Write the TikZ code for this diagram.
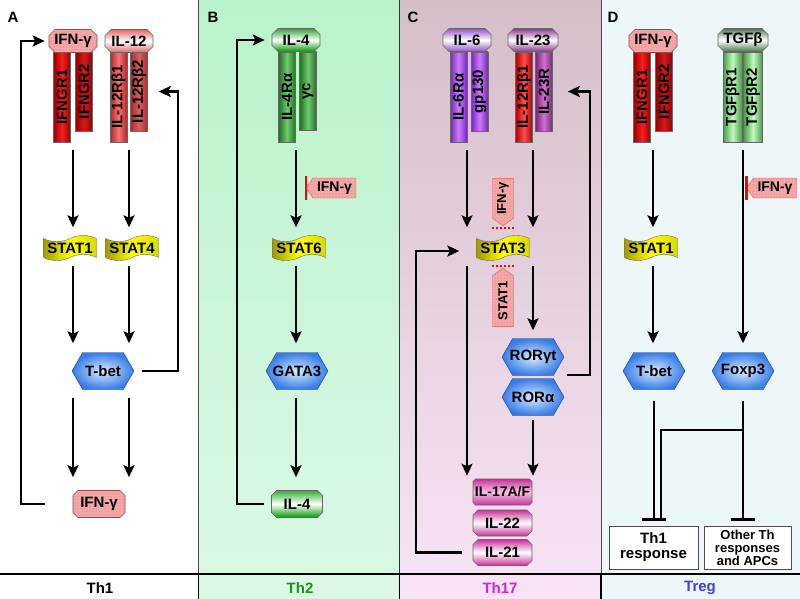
\documentclass[tikz,border=0pt]{standalone}
\usepackage{fontspec}
\setmainfont{Liberation Sans}
\usetikzlibrary{shapes.misc,shapes.symbols,arrows.meta,calc,patterns}
\definecolor{ifnpink}{RGB}{244,168,168}
\definecolor{ifndot}{RGB}{215,110,110}
\definecolor{ifnedge}{RGB}{150,70,70}
\definecolor{ifnr}{RGB}{150,0,0}
\definecolor{ifnrm}{RGB}{250,30,30}
\definecolor{iltwr}{RGB}{175,40,40}
\definecolor{iltwrm}{RGB}{250,115,115}
\definecolor{ilfr}{RGB}{30,115,30}
\definecolor{ilfrm}{RGB}{110,200,110}
\definecolor{ilsr}{RGB}{120,35,190}
\definecolor{ilsrm}{RGB}{200,125,255}
\definecolor{iltr}{RGB}{125,35,125}
\definecolor{iltrm}{RGB}{205,115,205}
\definecolor{tgfr}{RGB}{70,155,70}
\definecolor{tgfrm}{RGB}{195,248,195}
\definecolor{flagdark}{RGB}{160,155,0}
\definecolor{hexin}{RGB}{215,235,255}
\definecolor{hexout}{RGB}{55,125,230}
\definecolor{hexedge}{RGB}{30,60,140}
\definecolor{bgBtop}{RGB}{185,243,203}
\definecolor{bgBbot}{RGB}{220,249,230}
\definecolor{bgCtop}{RGB}{212,190,200}
\definecolor{bgCbot}{RGB}{248,228,245}
\definecolor{bgD}{RGB}{237,246,249}
\definecolor{magk}{RGB}{200,50,150}
\definecolor{magl}{RGB}{245,195,228}
\definecolor{thtwo}{RGB}{20,150,20}
\definecolor{thsev}{RGB}{210,30,230}
\definecolor{treg}{RGB}{60,60,240}
\begin{document}
\begin{tikzpicture}[x=1pt,y=-1pt,
  font=\bfseries\fontsize{15}{16}\selectfont,
  lig/.style={chamfered rectangle, chamfered rectangle xsep=3pt, chamfered rectangle ysep=3pt,
    minimum width=48pt, minimum height=23pt, inner sep=0pt, draw=black!60, line width=0.6pt},
  ifnfill/.style={fill=ifnpink, draw=ifnedge, postaction={pattern=dots, pattern color=ifndot}},
  outb/.style={lig, chamfered rectangle xsep=2.5pt, chamfered rectangle ysep=2.5pt,
    minimum width=52pt, minimum height=27pt},
  rbar/.style={rectangle, rotate=90, draw=black!60, line width=0.5pt, minimum height=17pt, inner sep=0pt},
  lbar/.style={minimum width=90pt},
  sbar/.style={minimum width=79pt},
  flag/.style={tape, tape bend top=in and out, tape bend bottom=in and out, tape bend height=6pt,
    minimum width=53pt, minimum height=25pt, inner sep=0pt, draw=black!60,
    left color=flagdark, right color=yellow!85!black, middle color=yellow},
  hexa/.style={signal, signal to=west and east, signal pointer angle=120,
    minimum width=62pt, minimum height=37pt, inner sep=0pt, draw=hexedge, inner color=hexin, outer color=hexout},
  htag/.style={signal, signal to=west, signal pointer angle=110, minimum width=50pt, minimum height=20pt,
    inner sep=0.5pt, ifnfill, draw=red!70, font=\bfseries\fontsize{14}{14}\selectfont},
  vtag/.style={htag, rotate=90, minimum height=21pt, font=\bfseries\fontsize{13}{13}\selectfont},
  arr/.style={line width=2.4pt, -{Stealth[length=12pt,width=11pt,inset=2.5pt]}, shorten <=8pt, shorten >=11pt},
  inh/.style={line width=2.4pt, -{Bar[width=24pt,line width=2.4pt]}},
  plainline/.style={line width=2.4pt},
  redbar/.style={red, line width=2.5pt},
  reddot/.style={red, line width=2pt, dash pattern=on 2pt off 2pt},
  lettr/.style={font=\bfseries\fontsize{15}{16}\selectfont},
]
\useasboundingbox (0,0) rectangle (800,599);
% backgrounds
\fill[white] (0,0) rectangle (198.5,599);
\shade[top color=bgBtop, bottom color=bgBbot] (198.5,0) rectangle (399.5,599);
\shade[top color=bgCtop, bottom color=bgCbot] (399.5,0) rectangle (601,599);
\fill[bgD] (601,0) rectangle (800,599);
\draw[line width=0.8pt, black!70] (198.5,0) -- (198.5,574);
\draw[line width=0.8pt, black!80] (399.5,0) -- (399.5,574);
\draw[line width=0.8pt, black!70] (601,0) -- (601,574);
\draw[line width=1.8pt] (0,574) -- (800,574);
\draw[line width=1.8pt] (198.5,574) -- (198.5,599);
\draw[line width=1.8pt] (399.5,574) -- (399.5,599);
\draw[line width=1.8pt] (601,574) -- (601,599);

% ---------------- Panel A ----------------
\node[lettr] (labA) at (13,17) {A};
\node[rbar, lbar, left color=ifnr, right color=ifnr, middle color=ifnrm] (r1A) at (62,97) {IFNGR1};
\node[rbar, sbar, left color=ifnr, right color=ifnr, middle color=ifnrm!85!black] (r2A) at (84,91.5) {IFNGR2};
\node[rbar, lbar, left color=iltwr, right color=iltwr, middle color=iltwrm] (r3A) at (118.5,97) {IL-12Rβ1};
\node[rbar, sbar, left color=iltwr, right color=iltwr, middle color=iltwrm!85!black] (r4A) at (139,91.5) {IL-12Rβ2};
\node[lig, ifnfill] (ifnA) at (73,41) {IFN-γ};
\node[lig, top color=iltwrm!90!black, bottom color=iltwrm!90!black, middle color=white] (il12A) at (129,41) {IL-12};
\node[flag] (stat1A) at (70,248) {STAT1};
\node[flag] (stat4A) at (132,248) {STAT4};
\node[hexa] (tbetA) at (103,371) {T-bet};
\node[outb, ifnfill] (ifnoA) at (99,504) {IFN-γ};
\draw[arr] (ifnA |- r1A.west) -- (ifnA |- stat1A.north);
\draw[arr] (il12A |- r3A.west) -- (il12A |- stat4A.north);
\draw[arr, shorten >=9pt] (ifnA |- stat1A.south) -- (ifnA |- tbetA.north);
\draw[arr, shorten >=9pt] (il12A |- stat4A.south) -- (il12A |- tbetA.north);
\draw[arr, shorten >=13pt] (ifnA |- tbetA.south) -- (ifnA |- ifnoA.north);
\draw[arr, shorten >=13pt] (il12A |- tbetA.south) -- (il12A |- ifnoA.north);
\draw[arr, shorten <=8pt, shorten >=11pt] (tbetA.east) -- ++(44,0) |- (r4A.south);
\draw[arr, shorten <=28pt, shorten >=4pt] (ifnoA.west) -- ++(-52,0) |- (ifnA.west);
\node (thA) at (100,588) {Th1};

% ---------------- Panel B ----------------
\node[lettr] (labB) at (213,17) {B};
\node[rbar, lbar, left color=ilfr, right color=ilfr, middle color=ilfrm] (r1B) at (287,97) {IL-4Rα};
\node[rbar, minimum width=78pt, left color=ilfr, right color=ilfr, middle color=ilfrm] (r2B) at (308,91) {γc};
\node[lig, top color=green!55!black!80, bottom color=green!60!black, middle color=white] (il4B) at (296,40) {IL-4};
\node[htag] (tagB) at (334.5,188) {IFN-γ};
\draw[redbar] ([yshift=12pt]tagB.west) -- ([yshift=-12pt]tagB.west);
\node[flag] (stat6B) at (299,248) {STAT6};
\node[hexa] (gataB) at (297,371) {\makebox[0pt]{GATA3}};
\node[outb, minimum width=51pt, top color=green!60!black!80, bottom color=green!60!black, middle color=white] (il4oB) at (297,504) {IL-4};
\draw[arr] (il4B |- r1B.west) -- (il4B |- stat6B.north);
\draw[arr, shorten >=9pt] (il4B |- stat6B.south) -- (il4B |- gataB.north);
\draw[arr, shorten >=13pt] (il4B |- gataB.south) -- (il4B |- il4oB.north);
\draw[arr, shorten <=7pt, shorten >=7pt] (il4oB.west) -- ++(-34,0) |- (il4B.west);
\node[text=thtwo] (thB) at (300,588) {Th2};

% ---------------- Panel C ----------------
\node[lettr] (labC) at (413,17) {C};
\node[rbar, lbar, left color=ilsr, right color=ilsr, middle color=ilsrm] (r1C) at (458.5,97) {IL-6Rα};
\node[rbar, sbar, left color=ilsr, right color=ilsr, middle color=ilsrm] (r2C) at (479.5,91.5) {gp130};
\node[rbar, lbar, left color=red!70!black, right color=red!70!black, middle color=red!70!white] (r3C) at (524,97) {IL-12Rβ1};
\node[rbar, sbar, left color=iltr, right color=iltr, middle color=iltrm] (r4C) at (544,91.5) {IL-23R};
\node[lig, top color=ilsr!80, bottom color=ilsr!80, middle color=white] (il6C) at (467,40) {IL-6};
\node[lig, minimum width=50pt, top color=iltr!90, bottom color=iltr!90, middle color=white] (il23C) at (533,40) {IL-23};
\node[flag] (stat3C) at (503,248) {STAT3};
\node[vtag, signal to=west, minimum width=47pt] (ifnvC) at (503,198.5) {IFN-γ};
\draw[reddot] ([xshift=-11pt,yshift=-2pt]ifnvC.west) -- ([xshift=11pt,yshift=-2pt]ifnvC.west);
\node[vtag, signal to=east, minimum width=58pt] (stat1vC) at (503,301) {STAT1};
\draw[reddot] ([xshift=-11pt,yshift=2pt]stat1vC.east) -- ([xshift=11pt,yshift=2pt]stat1vC.east);
\node[hexa] (rortC) at (533,357) {\makebox[0pt]{RORγt}};
\node[hexa] (roraC) at (533,397) {\makebox[0pt]{RORα}};
\node[outb, minimum width=59pt, minimum height=26pt, font=\bfseries\fontsize{14}{14}\selectfont,
  top color=magk, bottom color=magk, middle color=magl] (il17C) at (502.5,492) {\makebox[0pt]{IL-17A/F}};
\node[outb, minimum width=59pt, minimum height=26pt, top color=magk, bottom color=magk, middle color=white] (il22C) at (502.5,523) {IL-22};
\node[outb, minimum width=59pt, minimum height=26pt, top color=magk, bottom color=magk, middle color=white] (il21C) at (502.5,552.5) {IL-21};
\draw[arr] (il6C |- r1C.west) -- (il6C |- stat3C.north);
\draw[arr] (il23C |- r3C.west) -- (il23C |- stat3C.north);
\draw[arr, shorten >=3pt] (il6C |- stat3C.south) -- (il6C |- il17C.north);
\draw[arr, shorten >=8pt] (il23C |- stat3C.south) -- (il23C |- rortC.north);
\draw[arr, shorten <=4pt, shorten >=3pt] (il23C |- roraC.south) -- (il23C |- il17C.north);
\draw[arr, shorten <=0pt, shorten >=15pt] ([xshift=3pt,yshift=-18pt]rortC.east) -- ++(23,0) |- (r4C.south);
\draw[arr, shorten <=11pt, shorten >=17pt] (il21C.west) -- ++(-57,0) |- ([yshift=-3pt]stat3C.west);
\node[text=thsev] (thC) at (500,588) {Th17};

% ---------------- Panel D ----------------
\node[lettr] (labD) at (613,17) {D};
\node[rbar, lbar, left color=ifnr, right color=ifnr, middle color=ifnrm] (r1D) at (642,97) {IFNGR1};
\node[rbar, sbar, left color=ifnr, right color=ifnr, middle color=ifnrm!85!black] (r2D) at (664,91.5) {IFNGR2};
\node[rbar, lbar, minimum height=19pt, left color=tgfr, right color=tgfr, middle color=tgfrm] (r3D) at (732.5,97) {TGFβR1};
\node[rbar, lbar, minimum height=19pt, left color=tgfr, right color=tgfr, middle color=tgfrm] (r4D) at (753,97) {TGFβR2};
\node[lig, ifnfill] (ifnD) at (653,41) {IFN-γ};
\node[lig, minimum width=50pt, top color=green!25!black!70, bottom color=green!25!black!70, middle color=white] (tgfD) at (743,40) {TGFβ};
\node[htag] (tagD) at (775,188) {IFN-γ};
\draw[redbar] ([yshift=12pt]tagD.west) -- ([yshift=-12pt]tagD.west);
\node[flag] (stat1D) at (651,248) {STAT1};
\node[hexa] (tbetD) at (654,371) {T-bet};
\node[hexa] (foxD) at (743,371) {\makebox[0pt]{Foxp3}};
\node[draw=black!70, fill=white, minimum width=89pt, minimum height=43pt, align=center, inner sep=1pt,
  font=\bfseries\fontsize{15}{15}\selectfont] (th1D) at (653.5,547.5) {Th1\\response};
\node[draw=black!70, fill=white, minimum width=87pt, minimum height=43pt, align=center, inner sep=1pt,
  font=\bfseries\fontsize{13}{13}\selectfont] (othD) at (747.5,547.5) {Other Th\\responses\\and APCs};
\draw[arr] (ifnD |- r1D.west) -- (ifnD |- stat1D.north);
\draw[arr, shorten >=9pt] (ifnD |- stat1D.south) -- (ifnD |- tbetD.north);
\draw[arr, shorten >=9pt] (tgfD |- r3D.west) -- (tgfD |- foxD.north);
\draw[inh, shorten <=11pt, shorten >=5pt] (tbetD.south) -- (tbetD |- th1D.north);
\draw[inh, shorten <=11pt, shorten >=5pt] (foxD.south) -- (foxD |- othD.north);
\draw[plainline, shorten >=5pt] ($(foxD.south)+(0,40)$) -| ($(tbetD.south |- th1D.north)+(7,0)$);
\node[text=treg] (thD) at (700,588) {Treg};
\end{tikzpicture}
\end{document}
